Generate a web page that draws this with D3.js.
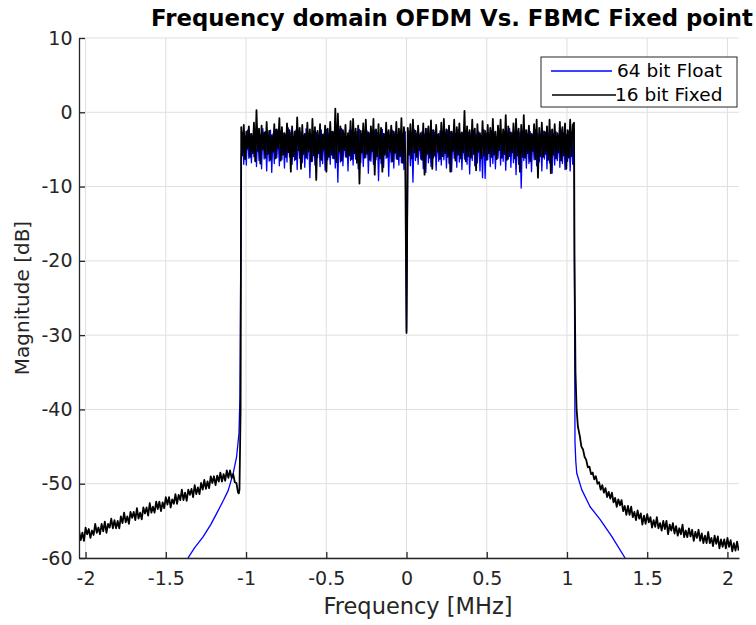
<!DOCTYPE html>
<html>
<head>
<meta charset="utf-8">
<script src="https://cdn.jsdelivr.net/npm/d3@7"></script>
<style>
  body { margin: 0; background: #fff; }
  text { font-family: "DejaVu Sans", sans-serif; fill: #262626; }
</style>
</head>
<body>
<svg id="chart"></svg>
<script>
// ---- data ----
const seriesNames = ["64 bit Float", "16 bit Fixed"];
const xTicks = [-2, -1.5, -1, -0.5, 0, 0.5, 1, 1.5, 2];
const yTicks = [10, 0, -10, -20, -30, -40, -50, -60];

// occupied band, evenly spaced bins either side of DC (frequency in MHz)
const bandNegRange = [-1.030, -0.008];
const bandPosRange = [0.008, 1.044];
const dcNotchFloat = [0, -29.5];
const dcNotchFixed = [0, -29.7];

// 64 bit float, in-band magnitude (dB)
const floatBandNeg = [
  -6.4, -2.7, -7.0, -3.1, -7.1, -2.4, -6.2, -2.9, -6.8, -3.3, -6.0, -2.5, -7.3, -2.8, -6.5, -3.0, -7.6, -2.2, -6.3, -2.6,
  -7.9, -3.1, -6.6, -2.4, -8.1, -2.9, -6.9, -2.3, -6.1, -3.2, -7.2, -2.5, -6.4, -2.8, -7.5, -3.0, -6.7, -2.1, -6.0, -2.7,
  -7.0, -3.3, -6.5, -2.4, -7.7, -2.9, -6.2, -2.6, -6.8, -3.1, -7.4, -2.2, -6.3, -2.8, -8.8, -3.0, -6.6, -2.5, -7.1, -2.7,
  -6.1, -3.2, -7.3, -2.4, -6.9, -2.9, -7.8, -2.3, -6.4, -3.0, -7.0, -2.6, -6.2, -2.8, -7.5, -3.1, -9.4, -2.5, -6.7, -2.2,
  -7.2, -2.9, -6.0, -3.3, -7.9, -2.4, -6.5, -2.7, -7.1, -3.0, -6.3, -2.6, -7.6, -2.3, -6.8, -2.9, -7.3, -3.1, -6.1, -2.5,
  -8.2, -2.8, -6.6, -3.0, -7.0, -2.4, -6.4, -2.7, -9.2, -3.2, -6.9, -2.3, -7.4, -2.9, -6.2, -2.6, -8.6, -3.1, -6.7, -2.4,
  -7.5, -2.8, -6.3, -3.0, -7.1, -2.5, -6.8, -2.9, -7.7, -2.6];
const floatBandPos = [
  -6.7, -2.5, -7.2, -3.0, -9.4, -2.3, -6.5, -2.8, -7.0, -3.1, -6.3, -2.6, -7.6, -2.9, -8.1, -2.2, -6.8, -3.2, -7.3, -2.4,
  -6.1, -2.7, -7.8, -3.0, -6.6, -2.5, -7.1, -2.8, -6.4, -3.3, -7.5, -2.4, -6.9, -2.6, -8.0, -3.1, -6.2, -2.9, -7.4, -2.3,
  -6.7, -2.8, -7.7, -3.0, -6.3, -2.5, -7.0, -2.7, -8.3, -3.2, -6.5, -2.4, -7.2, -2.9, -6.8, -2.6, -7.9, -3.1, -8.8, -2.3,
  -8.9, -2.8, -6.4, -3.0, -7.3, -2.5, -6.9, -2.7, -7.6, -3.3, -6.2, -2.4, -7.1, -2.9, -6.6, -2.6, -7.8, -3.1, -6.3, -2.2,
  -7.4, -2.8, -6.8, -3.0, -8.4, -2.5, -7.0, -2.7, -10.2, -3.2, -6.5, -2.4, -7.5, -2.9, -6.9, -2.6, -8.0, -3.0, -6.4, -2.3,
  -7.2, -2.8, -6.7, -3.1, -7.9, -2.5, -6.3, -2.7, -7.6, -3.0, -6.8, -2.4, -8.2, -2.9, -7.1, -2.6, -6.5, -3.2, -7.4, -2.3,
  -6.9, -2.8, -7.7, -3.0, -6.6, -2.5, -7.9, -2.7, -7.0, -2.4];

// 16 bit fixed, in-band magnitude (dB)
const fixedBandNeg = [
  -2.0, -5.8, -1.7, -6.3, -2.6, -4.9, -1.9, -6.0, -2.9, -5.5, -1.4, -6.6, 0.3, -5.2, -2.2, -6.9, -1.8, -5.0, -2.7, -6.1,
  -1.3, -5.6, -2.5, -6.4, -3.1, -5.3, -1.6, -6.2, -2.3, -4.8, -0.8, -6.5, -2.0, -5.7, -2.8, -6.0, -1.5, -5.4, -2.4, -8.0,
  -1.9, -5.9, -2.6, -6.3, -0.7, -5.1, -2.1, -7.6, -1.7, -5.6, -2.9, -6.1, -1.4, -5.3, -2.3, -6.6, -0.9, -5.8, -2.0, -9.1,
  -2.5, -5.5, -1.6, -6.4, -3.0, -5.0, -1.8, -8.0, -2.2, -6.0, -1.3, -5.7, -2.6, -6.2, 0.5, -6.7, -0.2, -5.3, -1.9, -6.5,
  -2.4, -5.1, -1.7, -6.0, -2.8, -5.8, -1.2, -6.3, -0.9, -5.5, -2.2, -6.8, -1.8, -9.6, -2.5, -5.4, -1.5, -6.1, -1.0, -5.6,
  -2.7, -6.4, -1.9, -5.2, -0.9, -8.4, -2.3, -5.9, -1.6, -6.2, -2.1, -8.0, -2.9, -5.7, -1.4, -6.0, -2.4, -5.3, -1.8, -6.6,
  -2.6, -5.5, -1.3, -6.3, -2.2, -5.9, -0.8, -6.8, -2.0, -5.4];
const fixedBandPos = [
  -2.1, -5.7, -1.6, -6.2, -1.0, -5.4, -2.5, -6.0, -1.8, -5.1, -2.8, -6.4, -1.5, -8.4, -2.2, -5.6, -1.9, -6.1, -1.1, -7.6,
  -2.4, -5.8, -1.7, -5.3, -2.9, -6.3, -1.4, -5.9, -0.9, -5.5, -2.3, -6.0, -1.8, -8.0, -2.6, -5.2, -1.0, -6.5, -2.0, -5.7,
  -1.5, -6.2, -2.7, -5.4, 0.2, -6.6, -1.9, -5.9, -2.4, -6.1, -1.0, -5.6, -2.2, -7.8, -1.6, -5.3, -2.8, -6.2, -1.2, -5.8,
  -2.5, -6.4, -1.7, -5.5, -2.1, -6.0, -0.9, -5.7, -2.6, -6.3, -1.8, -5.1, -1.0, -6.1, -2.3, -5.6, -0.4, -6.4, -1.9, -5.9,
  -2.7, -5.4, -1.5, -6.2, -0.9, -5.8, -2.2, -8.0, -1.7, -6.0, -0.4, -6.1, -2.4, -5.5, -1.8, -6.6, -2.9, -5.2, -1.6, -6.3,
  -1.0, -8.8, -2.1, -5.9, -1.4, -6.0, -2.6, -5.6, -1.9, -6.4, -1.0, -8.2, -2.3, -5.7, -1.6, -6.2, -2.8, -5.4, -1.3, -6.5,
  -2.0, -5.8, -1.5, -7.6, -2.4, -6.1, -1.0, -5.9, -1.7, -1.4];

// 64 bit float, out-of-band skirts [MHz, dB]
const floatSkirtLow = [[-1.362, -60], [-1.32, -58.6], [-1.269, -57.2], [-1.22, -55.5], [-1.183, -54.0],
  [-1.14, -52.2], [-1.111, -50.9], [-1.08, -48.6], [-1.059, -46.4], [-1.044, -43.2], [-1.038, -38.3], [-1.033, -20]];
const floatSkirtHigh = [[1.047, -25], [1.050, -44.5], [1.055, -47.0], [1.061, -48.6], [1.092, -50.8],
  [1.144, -53.1], [1.206, -54.8], [1.279, -57.1], [1.362, -60]];

// 16 bit fixed, out-of-band skirts: evenly spaced bins plus the band-edge points
const fixedSkirtLowRange = [-2.04, -1.05];
const fixedSkirtLowDb = [
  -56.4, -57.6, -56.6, -57.7, -55.9, -56.8, -56.1, -57.3, -56.3, -56.9, -55.4, -56.6, -55.9, -56.8, -55.4, -56.4, -55.1, -56.6, -55.4, -55.9,
  -54.7, -56.0, -54.9, -56.0, -55.0, -56.0, -54.4, -55.3, -53.9, -55.2, -54.4, -55.4, -53.8, -54.6, -53.8, -54.9, -53.3, -54.7, -53.9, -54.8,
  -53.2, -54.0, -53.2, -54.3, -52.6, -53.9, -53.1, -53.9, -52.4, -53.4, -52.4, -53.7, -52.5, -53.3, -51.8, -52.8, -51.8, -53.2, -52.1, -52.7,
  -51.4, -52.7, -51.5, -52.2, -50.8, -52.2, -51.2, -52.3, -50.8, -51.5, -50.7, -51.8, -50.2, -51.4, -50.5, -51.4, -49.9, -50.8, -49.5, -50.7,
  -49.7, -50.6, -49.0, -49.9, -49.0, -50.2, -48.9, -49.7, -48.5, -49.7, -48.7, -49.6, -48.2, -49.2, -48.2, -49.2, -48.7, -49.8, -49.9, -51.2];
const fixedEdgeLow = [[-1.045, -51.3], [-1.041, -50.8], [-1.034, -40]];
const fixedEdgeHigh = [[1.047, -20], [1.053, -35], [1.060, -40.0], [1.068, -42.3]];
const fixedSkirtHighRange = [1.08, 2.07];
const fixedSkirtHighDb = [
  -43.6, -45.0, -45.4, -46.4, -46.8, -47.8, -47.7, -48.7, -48.5, -49.4, -49.0, -50.0, -49.8, -50.8, -50.2, -51.2, -50.6, -51.8, -51.1, -52.0,
  -51.2, -52.5, -51.9, -53.1, -52.1, -52.9, -52.2, -53.7, -53.0, -54.2, -53.0, -54.2, -53.1, -54.5, -53.8, -54.9, -53.6, -54.7, -54.0, -55.5,
  -54.3, -55.4, -54.1, -55.2, -54.5, -55.9, -54.9, -55.8, -54.5, -56.0, -55.3, -56.3, -55.0, -56.1, -55.0, -56.8, -55.5, -56.3, -55.3, -56.7,
  -55.7, -57.0, -56.0, -56.8, -55.5, -57.2, -56.3, -57.2, -56.0, -57.1, -56.2, -57.7, -56.5, -57.3, -56.2, -57.7, -56.7, -58.0, -57.0, -58.0,
  -56.5, -58.0, -57.3, -58.4, -57.0, -58.1, -57.1, -58.7, -57.5, -58.5, -57.5, -58.7, -57.3, -58.5, -57.6, -59.1, -58.0, -59.0, -57.8, -59.0];

// ---- build series ----
function binPoints(range, values) {
  const step = (range[1] - range[0]) / (values.length - 1);
  return values.map((v, i) => [range[0] + i * step, v]);
}

const floatSeries = [].concat(
  floatSkirtLow,
  binPoints(bandNegRange, floatBandNeg),
  [dcNotchFloat],
  binPoints(bandPosRange, floatBandPos),
  floatSkirtHigh
);
const fixedSeries = [].concat(
  binPoints(fixedSkirtLowRange, fixedSkirtLowDb),
  fixedEdgeLow,
  binPoints(bandNegRange, fixedBandNeg),
  [dcNotchFixed],
  binPoints(bandPosRange, fixedBandPos),
  fixedEdgeHigh,
  binPoints(fixedSkirtHighRange, fixedSkirtHighDb)
);

// ---- chart ----
const width = 756, height = 625;
const plot = { left: 79, right: 739, top: 38, bottom: 558 };

const svg = d3.select("#chart").attr("width", width).attr("height", height);
svg.append("rect").attr("width", width).attr("height", height).attr("fill", "#fff");

const x = d3.scaleLinear().domain([-2.041, 2.072]).range([plot.left, plot.right]);
const y = d3.scaleLinear().domain([-60, 10]).range([plot.bottom, plot.top]);

// grid
svg.append("g").selectAll("line").data(xTicks).join("line")
  .attr("x1", d => x(d)).attr("x2", d => x(d))
  .attr("y1", plot.top).attr("y2", plot.bottom)
  .attr("stroke", "#dfdfdf").attr("stroke-width", 1);
svg.append("g").selectAll("line").data(yTicks).join("line")
  .attr("x1", plot.left).attr("x2", plot.right)
  .attr("y1", d => y(d)).attr("y2", d => y(d))
  .attr("stroke", "#dfdfdf").attr("stroke-width", 1);

svg.append("clipPath").attr("id", "clip")
  .append("rect")
  .attr("x", plot.left).attr("y", plot.top)
  .attr("width", plot.right - plot.left).attr("height", plot.bottom - plot.top);

const line = d3.line().x(d => x(d[0])).y(d => y(d[1]));

const colors = ["#0000ff", "#000000"];
const strokes = [1.3, 1.8];
svg.append("g").attr("clip-path", "url(#clip)")
  .selectAll("path").data([floatSeries, fixedSeries]).join("path")
  .attr("d", line)
  .attr("fill", "none")
  .attr("stroke", (d, i) => colors[i])
  .attr("stroke-width", (d, i) => strokes[i])
  .attr("stroke-linejoin", "round");

// axes
const xAxis = svg.append("g")
  .attr("transform", `translate(0,${plot.bottom})`)
  .call(d3.axisBottom(x).tickValues(xTicks).tickFormat(d => String(d))
    .tickSizeInner(-6).tickSizeOuter(0).tickPadding(14));
const yAxis = svg.append("g")
  .attr("transform", `translate(${plot.left},0)`)
  .call(d3.axisLeft(y).tickValues(yTicks).tickFormat(d => String(d))
    .tickSizeInner(-6).tickSizeOuter(0).tickPadding(6.5));

[xAxis, yAxis].forEach(g => {
  g.select(".domain").attr("stroke", "#262626").attr("stroke-width", 1.3);
  g.selectAll(".tick line").attr("stroke", "#262626").attr("stroke-width", 1.3);
  g.selectAll(".tick text").attr("fill", "#262626")
    .style("font-family", "DejaVu Sans").style("font-size", "19px");
});

// labels
svg.append("text")
  .attr("x", 452).attr("y", 26)
  .attr("text-anchor", "middle")
  .style("font-size", "22.8px").style("font-weight", "bold").style("fill", "#000")
  .text("Frequency domain OFDM Vs. FBMC Fixed point");

svg.append("text")
  .attr("x", 418).attr("y", 614)
  .attr("text-anchor", "middle")
  .style("font-size", "22.5px")
  .text("Frequency [MHz]");

svg.append("text")
  .attr("transform", "translate(29,298) rotate(-90)")
  .attr("text-anchor", "middle")
  .style("font-size", "20px")
  .text("Magnitude [dB]");

// legend
const legend = svg.append("g");
legend.append("rect")
  .attr("x", 541).attr("y", 57).attr("width", 196).attr("height", 50)
  .attr("fill", "#fff").attr("stroke", "#262626").attr("stroke-width", 1);
const rows = [
  { x1: 551, x2: 612, y: 71, tx: 617 },
  { x1: 552, x2: 616, y: 95, tx: 615 }
];
rows.forEach((r, i) => {
  legend.append("line")
    .attr("x1", r.x1).attr("x2", r.x2).attr("y1", r.y).attr("y2", r.y)
    .attr("stroke", colors[i]).attr("stroke-width", 1.3);
  legend.append("text")
    .attr("x", r.tx).attr("y", r.y)
    .attr("dy", "0.35em")
    .style("font-size", "18.5px")
    .style("fill", "#000")
    .text(seriesNames[i]);
});
</script>
</body>
</html>
